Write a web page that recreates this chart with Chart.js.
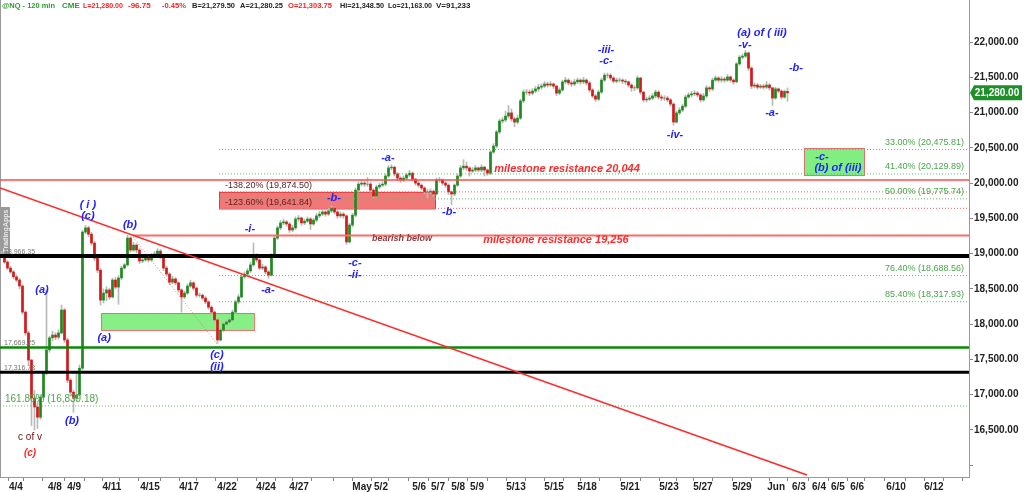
<!DOCTYPE html>
<html>
<head>
<meta charset="utf-8">
<script src="https://cdn.jsdelivr.net/npm/chart.js@4.4.1/dist/chart.umd.min.js"></script>
<style>
  html, body { margin: 0; padding: 0; background: #fff; }
  canvas { display: block; }
</style>
</head>
<body>
<canvas id="chart" width="1024" height="492"></canvas>
<script>
// 120 min bars, @NQ (one bar per slot)
const firstOpen = 18990;
const closes = [
  18980,18880,18795,18740,18670,18625,18540,18170,17875,17490,
  16950,16825,16680,16965,17305,17635,17805,17845,17815,17875,
  18200,17775,17205,17035,16950,16995,17375,19305,19365,19275,
  19150,18935,18765,18340,18440,18485,18385,18625,18525,18655,
  18795,18840,19220,19050,19120,19050,18895,18910,18935,18910,
  18965,18995,19035,18950,18795,18710,18595,18640,18585,18485,
  18385,18440,18540,18585,18510,18410,18410,18370,18315,18240,
  18170,18060,17775,17915,18000,18030,18060,18170,18315,18385,
  18670,18710,18755,18840,18980,18910,18795,18810,18740,18695,
  18980,19220,19365,19435,19450,19420,19335,19365,19490,19505,
  19435,19460,19490,19420,19475,19535,19560,19590,19560,19605,
  19645,19590,19535,19560,19535,19165,19405,19545,19900,19985,
  20000,19985,19985,19900,19815,19945,19970,19985,20100,20215,
  20225,20130,20070,20045,20070,20115,20140,20055,20000,19970,
  19930,19875,19875,19885,19845,20045,20045,20000,19970,19875,
  19845,19970,20100,20215,20240,20215,20170,20185,20215,20185,
  20225,20185,20140,20440,20525,20725,20880,20895,20950,20995,
  20910,20865,20920,21165,21290,21290,21275,21305,21335,21360,
  21375,21405,21390,21405,21375,21275,21320,21435,21460,21420,
  21405,21435,21460,21435,21460,21420,21320,21235,21190,21290,
  21460,21530,21530,21490,21445,21460,21460,21445,21435,21390,
  21350,21350,21490,21290,21180,21190,21205,21235,21290,21220,
  21205,21205,21180,21120,20865,20995,21035,21090,21220,21250,
  21265,21275,21250,21180,21235,21350,21335,21460,21490,21460,
  21475,21460,21505,21460,21435,21690,21785,21800,21845,21630,
  21375,21390,21360,21375,21360,21390,21350,21205,21335,21305,
  21220,21300,21280
];
const highs = [
  19030,19000,18900,18820,18760,18700,18650,18560,18190,17900,
  17500,17060,16900,17000,17330,18480,17830,17900,17880,17920,
  18270,18220,17800,17230,17060,17330,17420,19330,19400,19390,
  19300,19170,18960,18790,18500,18530,18510,18650,18660,18690,
  18820,18860,19260,19240,19160,19140,19070,18950,18970,18960,
  19000,19030,19070,19060,18970,18820,18730,18680,18660,18600,
  18500,18470,18570,18620,18600,18530,18440,18430,18390,18330,
  18260,18190,18080,17940,18030,18060,18090,18200,18340,18420,
  18700,18740,18790,18880,19150,19000,18930,18850,18830,18760,
  19000,19250,19390,19470,19490,19470,19440,19400,19520,19540,
  19520,19490,19520,19510,19500,19570,19600,19620,19610,19640,
  19680,19660,19610,19590,19580,19550,19430,19570,19930,20020,
  20040,20030,20080,20010,19920,19970,20000,20020,20130,20250,
  20260,20240,20150,20090,20100,20140,20180,20160,20070,20020,
  19990,19950,19910,19920,19900,20070,20080,20060,20020,19990,
  19890,19990,20130,20250,20330,20300,20230,20220,20250,20230,
  20260,20240,20200,20460,20560,20750,20910,20930,21020,21100,
  21050,20930,20960,21190,21320,21330,21320,21340,21370,21400,
  21410,21440,21430,21440,21420,21390,21350,21460,21500,21480,
  21450,21470,21490,21480,21500,21480,21440,21340,21260,21320,
  21490,21560,21560,21550,21510,21490,21490,21480,21470,21450,
  21410,21380,21520,21500,21300,21220,21240,21270,21320,21310,
  21250,21240,21230,21200,21140,21020,21070,21120,21250,21280,
  21300,21310,21300,21270,21270,21380,21370,21490,21520,21510,
  21510,21500,21540,21520,21480,21710,21810,21830,21880,21860,
  21650,21420,21410,21400,21400,21440,21410,21360,21360,21350,
  21320,21320,21350
];
const lows = [
  18950,18860,18770,18720,18640,18600,18500,18140,17840,17420,
  16560,16500,16520,16650,16940,17280,17600,17760,17780,17790,
  17860,17740,17170,16990,16750,16900,16980,17350,19280,19240,
  19120,18900,18730,18270,18300,18330,18350,18370,18500,18280,
  18630,18780,18820,19020,19030,19010,18860,18870,18890,18880,
  18890,18950,18980,18930,18760,18680,18560,18570,18560,18450,
  18170,18360,18420,18520,18480,18380,18380,18340,18290,18210,
  18140,18030,17730,17760,17890,17980,18010,18040,18150,18290,
  18370,18650,18690,18730,18820,18880,18770,18770,18710,18650,
  18680,18960,19200,19340,19410,19390,19300,19310,19340,19460,
  19400,19410,19440,19340,19400,19450,19510,19540,19530,19540,
  19580,19560,19500,19510,19500,19130,19150,19380,19520,19870,
  19960,19950,19950,19870,19790,19800,19920,19950,19960,20080,
  20190,20100,20040,20010,20020,20050,20090,20030,19970,19940,
  19900,19850,19790,19850,19810,19830,20010,19970,19940,19840,
  19690,19820,19950,20080,20190,20180,20100,20150,20160,20160,
  20160,20100,20110,20120,20420,20500,20700,20850,20870,20920,
  20880,20800,20840,20900,21140,21250,21240,21250,21280,21300,
  21330,21350,21360,21370,21340,21240,21250,21300,21410,21390,
  21370,21380,21410,21400,21410,21390,21290,21210,21160,21170,
  21270,21440,21490,21460,21420,21420,21430,21410,21400,21360,
  21300,21310,21330,21260,21150,21150,21170,21180,21210,21190,
  21170,21170,21150,21090,20820,20850,20970,21010,21070,21200,
  21220,21240,21220,21150,21160,21210,21300,21310,21440,21430,
  21430,21430,21440,21430,21400,21420,21670,21760,21780,21600,
  21340,21350,21330,21340,21330,21340,21320,21100,21190,21280,
  21190,21200,21160
];

// axis ticks (x in bar slots)
const xTickVals = [4.8, 9.8, 17.8, 24.2, 30.8, 36.8, 41.8, 49.5, 56.2, 62.5, 67.2, 75.2, 81.8, 88.2, 94.5,
  99.2, 107.5, 113.8, 120.2, 126.5, 131.8, 139.2, 145.5, 152.2, 158.5, 165.2, 171.5, 177.5, 184.2, 190.5,
  195.2, 203.2, 209.5, 216.2, 222.5, 227.5, 233.8, 240.5, 246.8, 253.5, 258.2, 265.8, 272.5, 278.8, 285.2,
  290.2, 298.2, 304.5, 310.8, 317.2];
const xTickLabels = ['4/4', '', '4/8', '4/9', '', '4/11', '', '4/15', '', '4/17', '', '4/22', '', '4/24', '',
  '4/27', '', '', 'May', '5/2', '', '5/6', '5/7', '5/8', '5/9', '', '5/13', '', '5/15', '',
  '5/18', '', '5/21', '', '5/23', '', '5/27', '', '5/29', '', 'Jun', '6/3', '6/4', '6/5', '6/6',
  '', '6/10', '', '6/12', ''];
const yTickVals = [16000, 16500, 17000, 17500, 18000, 18500, 19000, 19500, 20000, 20500, 21000, 21500, 22000];

// levels
const fibLevels = [['33.00%', 20475.81], ['41.40%', 20129.89], ['50.00%', 19775.74], ['76.40%', 18688.56], ['85.40%', 18317.93]];
const extLevels = [['-138.20%', 19874.50], ['-123.60%', 19641.84]];
const extFib = ['161.80%', 16839.18];
const supportLevels = [18966.35, 17669.25, 17316.78];
const milestones = [20044, 19256];
const trendLine = [[-0.5, 19930], [268.5, 15860]];
const dropLine = [[43.8, 19235], [72.2, 17703]];
const lastPrice = 21280;

// wave count labels [text, slot, price]
const waveLabels = [
  ['( i )', 28.8, 19689], ['(c)', 28.8, 19533], ['(b)', 42.8, 19405], ['(a)', 13.5, 18483],
  ['(a)', 34.2, 17803], ['(b)', 23.5, 16626], ['(c)', 71.8, 17562], ['(ii)', 71.8, 17392],
  ['-i-', 82.8, 19348], ['-a-', 88.8, 18483], ['-b-', 110.8, 19788], ['-c-', 117.8, 18866],
  ['-ii-', 117.8, 18696], ['-a-', 128.8, 20355], ['-b-', 149.2, 19589], ['-iii-', 201.5, 21887],
  ['-c-', 201.5, 21731], ['-iv-', 224.5, 20681], ['(a) of ( iii)', 253.5, 22128], ['-v-', 247.8, 21957],
  ['-b-', 264.8, 21631], ['-a-', 256.8, 20993], ['-c-', 273.5, 20369], ['(b) of (iii)', 278.8, 20213]
];

const boxes = [
  { x0: 72.5, x1: 144.5, top: 19875, bottom: 19640, fill: 'rgba(240,96,96,0.85)', line: '#e03a3a' },
  { x0: 33.2, x1: 84.2, top: 18157, bottom: 17916, fill: '#86f086', line: '#e87070' },
  { x0: 267.5, x1: 287.5, top: 20497, bottom: 20114, fill: '#80ee80', line: '#e07070' }
];

const opens = closes.map((c, i) => i === 0 ? firstOpen : closes[i - 1]);
const fmt = (v, d) => v.toLocaleString('en-US', { minimumFractionDigits: d, maximumFractionDigits: d });

const FONT = "'Liberation Sans', Arial, sans-serif";
Chart.defaults.font.family = FONT;

function hline(price, x0, x1, color, width, dash) {
  return {
    type: 'line',
    data: [{ x: x0, y: price }, { x: x1, y: price }],
    borderColor: color, borderWidth: width, borderDash: dash || [],
    pointRadius: 0, fill: false, order: 0
  };
}
function segment(pts, color, width, dash) {
  return {
    type: 'line',
    data: pts.map(p => ({ x: p[0], y: p[1] })),
    borderColor: color, borderWidth: width, borderDash: dash || [],
    pointRadius: 0, fill: false, order: 0
  };
}

const datasets = [
  {
    type: 'bar',
    data: closes.map((c, i) => ({ x: i, y: [lows[i], highs[i]] })),
    backgroundColor: '#b9b9b9', barThickness: 1, grouped: false, order: 3
  },
  {
    type: 'bar',
    data: closes.map((c, i) => ({ x: i, y: [opens[i], c] })),
    backgroundColor: closes.map((c, i) => c >= opens[i] ? '#1e8a1e' : '#d51818'),
    barThickness: 2, grouped: false, order: 2
  },
  segment(trendLine, '#ff2a2a', 1.5),
  segment(dropLine, 'rgba(220,90,90,0.8)', 1, [1, 2]),
  hline(milestones[0], -0.5, 322.5, '#ff4a4a', 1.5),
  hline(milestones[1], 43.8, 322.5, '#ff6a6a', 2),
  hline(extLevels[0][1], 72.5, 322.5, '#e06a6a', 1, [1, 2]),
  hline(extLevels[1][1], 72.5, 322.5, '#e06a6a', 1, [1, 2]),
  ...fibLevels.map(f => hline(f[1], 72.5, 322.5, '#66bb66', 1, [1, 2])),
  hline(extFib[1], -0.5, 322.5, '#66bb66', 1, [1, 2]),
  hline(supportLevels[0], -0.5, 322.5, '#000', 4),
  hline(supportLevels[1], -0.5, 322.5, '#0a8a0a', 2.5),
  hline(supportLevels[2], -0.5, 322.5, '#000', 3)
];

function text(ctx, t, x, y, font, color, align, maxW) {
  ctx.font = font;
  ctx.fillStyle = color;
  ctx.textAlign = align || 'center';
  ctx.textBaseline = 'middle';
  if (maxW) ctx.fillText(t, x, y, maxW);
  else ctx.fillText(t, x, y);
}

const drawings = {
  id: 'drawings',
  beforeDraw(chart) {
    const ctx = chart.ctx;
    ctx.save();
    ctx.fillStyle = '#fff';
    ctx.fillRect(0, 0, chart.width, chart.height);
    ctx.restore();
  },
  beforeDatasetsDraw(chart) {
    const { ctx, chartArea } = chart;
    const X = v => chart.scales.x.getPixelForValue(v);
    const Y = v => chart.scales.y.getPixelForValue(v);
    ctx.save();
    boxes.forEach(b => {
      const x0 = X(b.x0), x1 = X(b.x1), y0 = Y(b.top), y1 = Y(b.bottom);
      ctx.fillStyle = b.fill;
      ctx.fillRect(x0, y0, x1 - x0, y1 - y0);
      ctx.strokeStyle = b.line;
      ctx.lineWidth = 1;
      ctx.strokeRect(x0 + 0.5, y0 + 0.5, x1 - x0, y1 - y0);
    });
    // watermark tab
    ctx.fillStyle = '#9a9a9a';
    ctx.fillRect(1, 207, 9, 48);
    ctx.translate(6, 231);
    ctx.rotate(-Math.PI / 2);
    text(ctx, 'TradingApps', 0, 0, 'bold 7px ' + FONT, '#e8e8e8');
    ctx.restore();
    ctx.save();
    ctx.strokeStyle = '#999';
    ctx.beginPath();
    ctx.moveTo(0.5, chartArea.top);
    ctx.lineTo(0.5, chartArea.bottom);
    ctx.stroke();
    ctx.restore();
  },
  afterDatasetsDraw(chart) {
    const { ctx, chartArea } = chart;
    const X = v => chart.scales.x.getPixelForValue(v);
    const Y = v => chart.scales.y.getPixelForValue(v);
    ctx.save();
    const blue = 'italic bold 11px ' + FONT;
    waveLabels.forEach(l => text(ctx, l[0], X(l[1]), Y(l[2]), blue, '#2222ff'));

    text(ctx, 'c of v', X(9.5), Y(16399), '10px ' + FONT, '#6b1010');
    text(ctx, '(c)', X(9.5), Y(16172), 'italic bold 10px ' + FONT, '#ff2a2a');

    const red = 'italic bold 11px ' + FONT;
    text(ctx, 'milestone resistance ' + fmt(milestones[0], 0), X(188.5), Y(20199), red, '#ff2a2a');
    text(ctx, 'milestone resistance ' + fmt(milestones[1], 0), X(184.8), Y(19192), red, '#ff2a2a');
    text(ctx, 'bearish below', X(133.5), Y(19207), 'italic bold 9px ' + FONT, '#8e3a3a');

    const green = '9px ' + FONT;
    fibLevels.forEach(f => text(ctx, f[0] + ' (' + fmt(f[1], 2) + ')', chartArea.right - 5, Y(f[1]) - 7, green, '#4aa64a', 'right'));
    text(ctx, extFib[0] + ' (' + fmt(extFib[1], 2) + ')', 5, Y(extFib[1]) - 7, '10px ' + FONT, '#4aa64a', 'left');
    extLevels.forEach(e => text(ctx, e[0] + ' (' + fmt(e[1], 2) + ')', X(72.5) + 6, Y(e[1]) - 6, '9px ' + FONT, '#5a2323', 'left'));

    supportLevels.forEach(s => text(ctx, fmt(s, 2), 4, Y(s) - 4, '7px ' + FONT, '#777', 'left'));
    ctx.restore();
  },
  afterDraw(chart) {
    const { ctx, chartArea } = chart;
    const Y = v => chart.scales.y.getPixelForValue(v);
    ctx.save();
    // header quote line
    const hf = 'bold 8px ' + FONT;
    const hy = 6;
    [
      ['@NQ - 120 min', 2, 53, '#2f9b2f'], ['CME', 62, 18, '#2f9b2f'],
      ['L=21,280.00', 83, 40, '#ff2020'], ['-96.75', 128, 24, '#ff2020'], ['-0.45%', 162, 24, '#ff2020'],
      ['B=21,279.50', 192, 43, '#222'], ['A=21,280.25', 240, 43, '#222'], ['O=21,303.75', 288, 44, '#ff2020'],
      ['Hi=21,348.50', 340, 44, '#222'], ['Lo=21,163.00', 388, 44, '#222'], ['V=91,233', 436, 37, '#222']
    ].forEach(h => text(ctx, h[0], h[1], hy, hf, h[3], 'left', h[2]));

    // last price tag
    const py = Y(lastPrice);
    const x0 = chartArea.right + 1;
    ctx.fillStyle = '#1f8f2a';
    ctx.beginPath();
    ctx.moveTo(x0, py);
    ctx.lineTo(x0 + 4, py - 7.5);
    ctx.lineTo(1022, py - 7.5);
    ctx.lineTo(1022, py + 7.5);
    ctx.lineTo(x0 + 4, py + 7.5);
    ctx.closePath();
    ctx.fill();
    text(ctx, fmt(lastPrice, 2), 997, py + 0.5, 'bold 10px ' + FONT, '#fff');
    ctx.restore();
  }
};

new Chart(document.getElementById('chart'), {
  type: 'bar',
  data: { datasets },
  options: {
    responsive: false,
    animation: false,
    devicePixelRatio: 1,
    events: [],
    layout: { padding: 0 },
    plugins: { legend: { display: false }, tooltip: { enabled: false } },
    scales: {
      x: {
        type: 'linear', position: 'bottom', min: -0.5, max: 322.5, offset: false,
        grid: { drawOnChartArea: false, tickLength: 4, tickColor: '#888' },
        border: { display: true, color: '#999' },
        ticks: {
          autoSkip: false, maxRotation: 0, minRotation: 0, padding: 0, color: '#222',
          font: { size: 10, weight: 'bold' },
          callback: (v, i) => xTickLabels[i]
        },
        afterBuildTicks: s => { s.ticks = xTickVals.map(v => ({ value: v })); },
        afterFit: s => { s.height = 15; s.paddingLeft = 0; s.paddingRight = 0; }
      },
      y: {
        type: 'linear', position: 'right', min: 15832, max: 22596,
        grid: { drawOnChartArea: false, tickLength: 4, tickColor: '#888' },
        border: { display: true, color: '#999' },
        ticks: {
          padding: 1, color: '#222', font: { size: 10, weight: 'bold' },
          callback: v => v === 16000 ? '' : fmt(v, 2)
        },
        afterBuildTicks: s => { s.ticks = yTickVals.map(v => ({ value: v })); },
        afterFit: s => { s.width = 55; s.paddingTop = 0; s.paddingBottom = 0; }
      }
    }
  },
  plugins: [drawings]
});
</script>
</body>
</html>
